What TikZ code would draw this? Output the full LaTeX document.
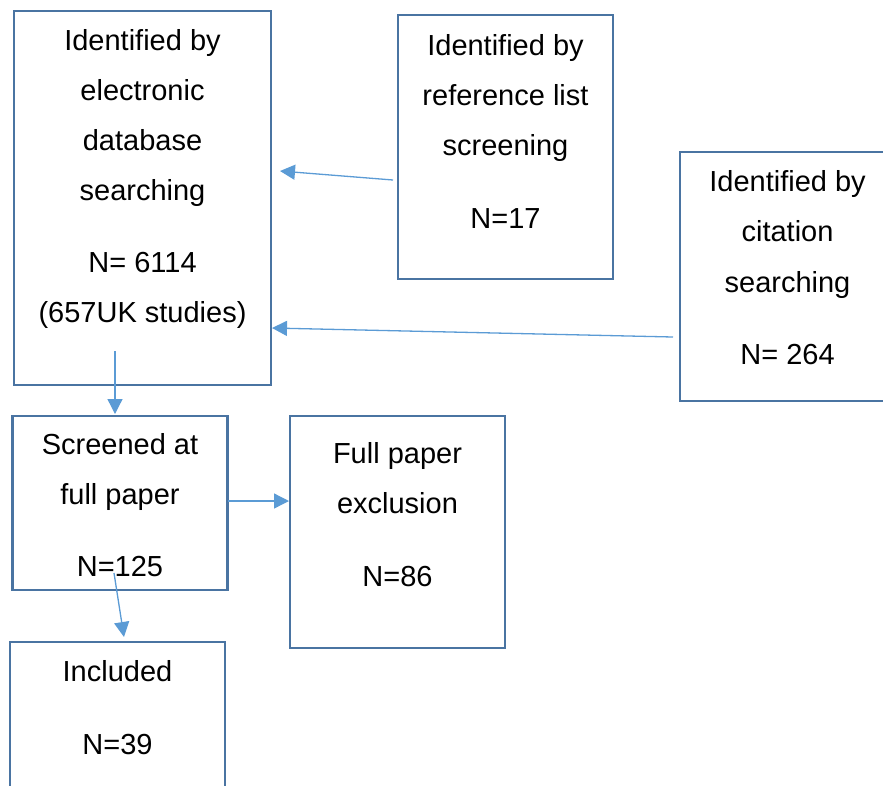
\documentclass[tikz,border=0pt]{standalone}
\usepackage{fontspec}
\setmainfont{Liberation Sans}
\usetikzlibrary{arrows.meta}
\definecolor{boxblue}{HTML}{4A74A2}
\definecolor{arrowblue}{HTML}{5B9BD5}
\tikzset{
  frame/.style={draw=boxblue, line width=2.6pt, fill=white, inner sep=0pt,
                outer sep=0pt, anchor=north west, minimum width=215pt},
  txt/.style={anchor=base, inner sep=0pt, font=\fontsize{29}{35}\selectfont},
  link/.style={draw=arrowblue, line width=1.3pt,
               -{Triangle[length=15pt,width=15pt]}}
}
\begin{document}
\begin{tikzpicture}[x=1pt,y=-1pt]
\useasboundingbox (0,0) rectangle (883,785);
\clip (0,0) rectangle (883,785);

% boxes
\node[frame, minimum width=257pt, minimum height=374pt] (elec) at (14,11) {};
\node[frame, minimum height=264pt] (refl) at (398,15) {};
\node[frame, minimum height=249pt] (cite) at (680,152) {};
\node[frame, minimum height=174pt] (scr) at (12.5,416) {};
\node[frame, minimum height=232pt] (excl) at (290,416) {};
\node[frame, minimum height=188pt] (incl) at (10,642) {};

% electronic database searching
\node[txt] (e1) at (142.5,50) {Identified by};
\node[txt] (e2) at (142.5,100) {electronic};
\node[txt] (e3) at (142.5,150) {database};
\node[txt] (e4) at (142.5,200) {searching};
\node[txt] (e5) at (142.5,272) {N= 6114};
\node[txt] (e6) at (142.5,322) {(657UK studies)};

% reference list screening
\node[txt] (r1) at (505.5,55) {Identified by};
\node[txt] (r2) at (505.5,105) {reference list};
\node[txt] (r3) at (505.5,155) {screening};
\node[txt] (r4) at (505.5,228) {N=17};

% citation searching
\node[txt] (c1) at (787.5,191) {Identified by};
\node[txt] (c2) at (787.5,241) {citation};
\node[txt] (c3) at (787.5,292) {searching};
\node[txt] (c4) at (787.5,364) {N= 264};

% screened at full paper
\node[txt] (s1) at (120,454) {Screened at};
\node[txt] (s2) at (120,504) {full paper};
\node[txt] (s3) at (120,576) {N=125};

% full paper exclusion
\node[txt] (x1) at (397.5,463) {Full paper};
\node[txt] (x2) at (397.5,513) {exclusion};
\node[txt] (x3) at (397.5,586) {N=86};

% included
\node[txt] (i1) at (117.5,681) {Included};
\node[txt] (i2) at (117.5,754) {N=39};

% connector end points
\coordinate (refTail) at (393,180);
\coordinate (refTip)  at (280,171);
\coordinate (citTail) at (673,337);
\coordinate (citTip)  at (272,328);
\coordinate (eleTail) at (115,351);
\coordinate (eleTip)  at (115,414);
\coordinate (scrTail) at (228,501);
\coordinate (scrTip)  at (289,501);
\coordinate (incTail) at (114,573);
\coordinate (incTip)  at (124,637);

% connectors
\draw[link] (refTail) -- (refTip);
\draw[link] (citTail) -- (citTip);
\draw[link] (eleTail) -- (eleTip);
\draw[link] (scrTail) -- (scrTip);
\draw[link] (incTail) -- (incTip);
\end{tikzpicture}
\end{document}
